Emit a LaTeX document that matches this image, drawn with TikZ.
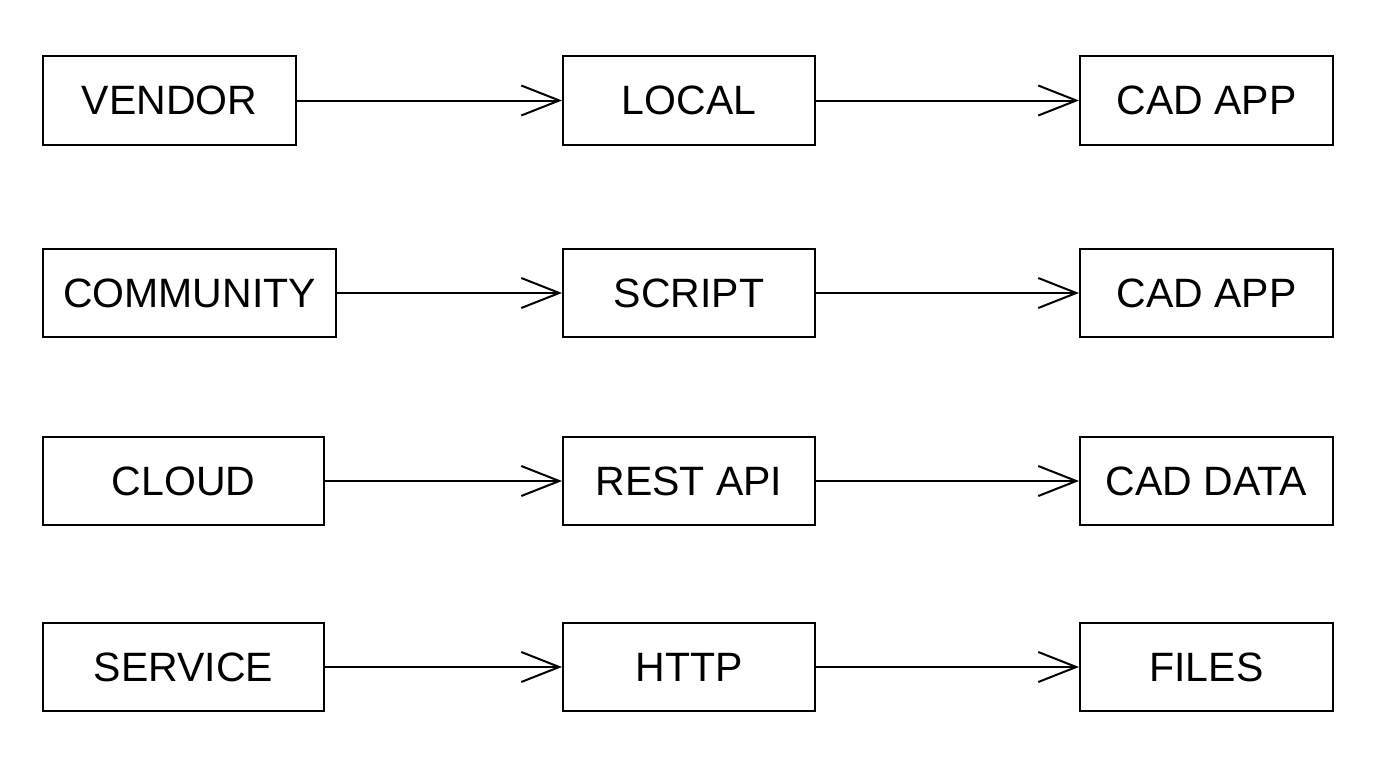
\documentclass[tikz,border=0pt]{standalone}
\usepackage{fontspec}
\setmainfont{Liberation Sans}
\usetikzlibrary{arrows.meta}
\begin{document}
\begin{tikzpicture}[x=1pt,y=-1pt,
  box/.style={draw,line width=2pt,inner sep=0pt,minimum height=88pt,font=\fontsize{41}{48}\selectfont},
  arr/.style={line width=2pt,-{Straight Barb[length=38pt,width=30pt,line width=2pt]}}]
\useasboundingbox (0,0) rectangle (1376,768);
\newcommand{\rowboxes}[8]{%
  \node[box,minimum width=#3pt] (#1a) at (#2,#8) {#4};
  \node[box,minimum width=252pt] (#1b) at (689,#8) {#5};
  \node[box,minimum width=253pt] (#1c) at (1206.5,#8) {#6};
  \draw[arr] (#1a) -- (#1b);
  \draw[arr] (#1b) -- (#1c);}
\rowboxes{r}{169.5}{253}{VENDOR}{LOCAL}{CAD APP}{}{100.5}
\rowboxes{s}{189.5}{293}{COMMUNITY}{SCRIPT}{CAD APP}{}{293}
\rowboxes{t}{183.5}{281}{CLOUD}{REST API}{CAD DATA}{}{481}
\rowboxes{u}{183.5}{281}{SERVICE}{HTTP}{FILES}{}{667}
\end{tikzpicture}
\end{document}
